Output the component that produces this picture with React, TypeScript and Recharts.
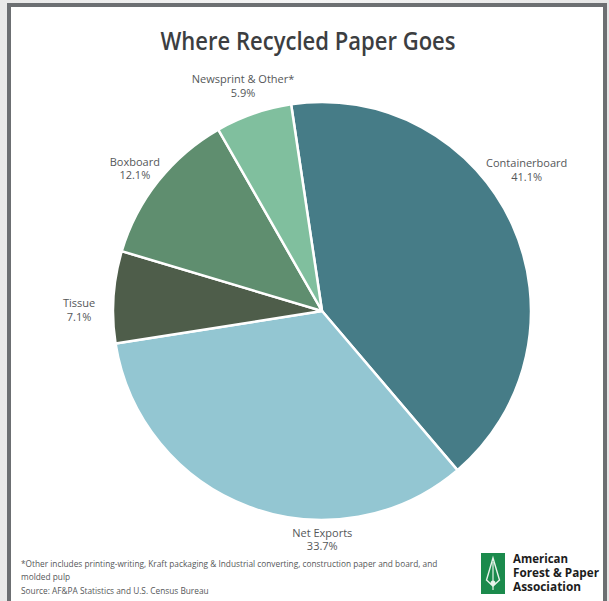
import React from 'react';
import { PieChart, Pie, Cell } from 'recharts';

const categories = ['Containerboard', 'Net Exports', 'Tissue', 'Boxboard', 'Newsprint & Other*'];
const shares = [41.1, 33.7, 7.1, 12.1, 5.9];
const colors = ['#467c87', '#93c6d2', '#4e5d4a', '#5f8e6f', '#80bf9e'];

const titleText = 'Where Recycled Paper Goes';
const footnoteLines = [
  '*Other includes printing-writing, Kraft packaging & Industrial  converting, construction paper and board, and',
  'molded pulp',
];
const sourceText = 'Source: AF&PA Statistics and U.S. Census Bureau';
const logoLines = ['American', 'Forest & Paper', 'Association'];

const data = categories.map((name, i) => ({ name, value: shares[i] }));

// label placement tweaks (angle nudge in degrees, gap beyond the outer radius)
const LABEL_LAYOUT: Record<string, { nudge: number; gap: number }> = {
  Containerboard: { nudge: 10.6, gap: 41 },
  'Net Exports': { nudge: 20.4, gap: 17 },
  Tissue: { nudge: 2.9, gap: 34 },
  Boxboard: { nudge: 0.6, gap: 28 },
  'Newsprint & Other*': { nudge: 0, gap: 32 },
};

const LOGO_WIDTHS = [55, 86, 68];

const RAD = Math.PI / 180;

const renderLabel = (props: any) => {
  const { cx, cy, midAngle, outerRadius, name, value } = props;
  const lay = LABEL_LAYOUT[name] || { nudge: 0, gap: 30 };
  const a = (midAngle + lay.nudge) * RAD;
  const r = outerRadius + lay.gap;
  const x = cx + r * Math.cos(a);
  const y = cy - r * Math.sin(a);
  return (
    <text
      x={x}
      y={y}
      textAnchor="middle"
      fill="#555759"
      fontSize={11}
      fontFamily="'Open Sans', sans-serif"
    >
      <tspan x={x} dy={0}>{name}</tspan>
      <tspan x={x} dy={13.5}>{value.toFixed(1)}%</tspan>
    </text>
  );
};

export default function App() {
  return (
    <div
      style={{
        position: 'fixed',
        left: 0,
        top: 0,
        width: 609,
        height: 601,
        background: 'linear-gradient(90deg, #e9e9e9 0%, #f4f4f4 50%, #e6e6e6 100%)',
        overflow: 'hidden',
      }}
    >
      <div
        style={{
          position: 'absolute',
          left: 7,
          top: 3,
          width: 592,
          height: 620,
          background: '#ffffff',
          border: '4px solid #6c6f72',
          borderBottom: 'none',
        }}
      />
      <div style={{ position: 'absolute', left: 0, top: 0 }}>
        <PieChart width={609} height={601} margin={{ top: 0, right: 0, bottom: 0, left: 0 }}>
          <text
            x={308}
            y={50}
            textAnchor="middle"
            fill="#3c3e41"
            fontSize={25}
            fontWeight={600}
            fontFamily="'Open Sans', sans-serif"
            textLength={295}
            lengthAdjust="spacingAndGlyphs"
          >
            {titleText}
          </text>
          <Pie
            data={data}
            dataKey="value"
            nameKey="name"
            cx={322}
            cy={311}
            outerRadius={209}
            startAngle={98.5}
            endAngle={-261.5}
            stroke="#ffffff"
            strokeWidth={2.5}
            label={renderLabel}
            labelLine={false}
            isAnimationActive={false}
          >
            {data.map((d, i) => (
              <Cell key={d.name} fill={colors[i]} />
            ))}
          </Pie>
          <text fill="#555759" fontSize={8.3} fontFamily="'Open Sans', sans-serif">
            <tspan x={21} y={567}>{footnoteLines[0]}</tspan>
            <tspan x={21} y={580}>{footnoteLines[1]}</tspan>
            <tspan x={21} y={594}>{sourceText}</tspan>
          </text>
          <g>
            <rect x={481} y={553} width={24} height={41} fill="#1b8a4c" />
            <path
              d="M493 558 L486.5 580 L493 586 L499.5 580 Z"
              fill="none"
              stroke="#e8f3ea"
              strokeWidth={1.4}
            />
            <path d="M493 562 L493 590" stroke="#e8f3ea" strokeWidth={1.2} />
            <circle cx={493} cy={583} r={2.5} fill="#e8f3ea" />
          </g>
          {logoLines.map((line, i) => (
            <text
              key={line}
              x={513}
              y={563 + i * 14}
              fill="#1c1c1c"
              fontSize={12}
              fontWeight={700}
              fontFamily="'Open Sans', sans-serif"
              textLength={LOGO_WIDTHS[i]}
              lengthAdjust="spacingAndGlyphs"
            >
              {line}
            </text>
          ))}
        </PieChart>
      </div>
    </div>
  );
}
